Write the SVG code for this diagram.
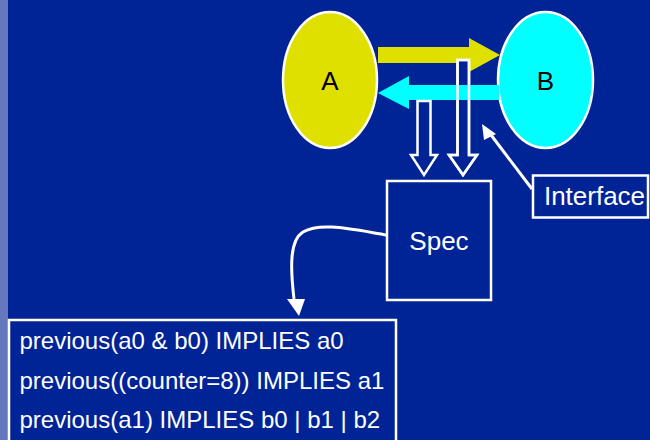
<svg xmlns="http://www.w3.org/2000/svg" width="650" height="440" viewBox="0 0 650 440">
<style>
.lbl{font-family:"Liberation Sans",Arial,sans-serif;font-size:26px;text-anchor:middle}
.code{font-family:"Liberation Sans",Arial,sans-serif;font-size:24px;fill:#ffffff}
.box{fill:#002496;stroke:#ffffff;stroke-width:2.5}
.hollow{fill:#002496;stroke:#ffffff;stroke-width:2.5;stroke-linejoin:miter}
.wline{fill:none;stroke:#ffffff;stroke-width:3}
</style>
<defs>
<marker id="head" markerWidth="6" markerHeight="6" refX="5" refY="3" orient="auto" markerUnits="strokeWidth">
<path d="M0,0 L6,3 L0,6 Z" fill="#ffffff"/>
</marker>
</defs>
<rect x="0" y="0" width="650" height="440" fill="#002496"/>
<rect x="0" y="0" width="8" height="440" fill="#6678bd"/>

<g id="nodeA">
<ellipse cx="330" cy="80" rx="47" ry="68" fill="#e0e000" stroke="#ffffff" stroke-width="2.5"/>
<text class="lbl" x="330" y="90" fill="#000000">A</text>
</g>
<g id="nodeB">
<ellipse cx="545.5" cy="80" rx="47.5" ry="68" fill="#00ffff" stroke="#ffffff" stroke-width="2.5"/>
<text class="lbl" x="545.5" y="90" fill="#000000">B</text>
</g>

<g id="connectors">
<polygon id="flowAB" points="378,47 469,47 469,38 500,55 469,72 469,63 378,63" fill="#e0e000"/>
<polygon class="hollow" points="457.5,60 469,60 469,155 477,155 463,175 449,155 457.5,155"/>
<polygon id="flowBA" points="499,85 409,85 409,76 378,93 409,109 409,100 499,100" fill="#00ffff"/>
<polygon points="457.5,60 469,60 469,155 477,155 463,175 449,155 457.5,155" fill="none" stroke="#ffffff" stroke-width="2.5"/>
<polygon class="hollow" points="417.5,101 430.5,101 430.5,155 437,155 424,175 411,155 417.5,155"/>
<path class="wline" d="M532,189 L488,131"/>
<polygon points="482,124 496,134 484,140" fill="#ffffff"/>
<path class="wline" d="M387,235 C350,229 320,222 303,232 C290,240 290,265 294,299"/>
<polygon points="287,299 305,299 299,316" fill="#ffffff"/>
</g>

<g id="spec">
<rect class="box" x="387" y="181" width="104" height="119"/>
<text class="lbl" x="439" y="250" fill="#ffffff">Spec</text>
</g>
<g id="interface">
<rect class="box" x="533" y="175.5" width="115" height="42"/>
<text class="lbl" x="594.5" y="205" fill="#ffffff">Interface</text>
</g>
<g id="formulas">
<rect class="box" x="9" y="320" width="387" height="130"/>
<text class="code" x="19.5" y="349">previous(a0 &amp; b0) IMPLIES a0</text>
<text class="code" x="19.5" y="388.5">previous((counter=8)) IMPLIES a1</text>
<text class="code" x="19.5" y="428">previous(a1) IMPLIES b0 | b1 | b2</text>
</g>
</svg>
